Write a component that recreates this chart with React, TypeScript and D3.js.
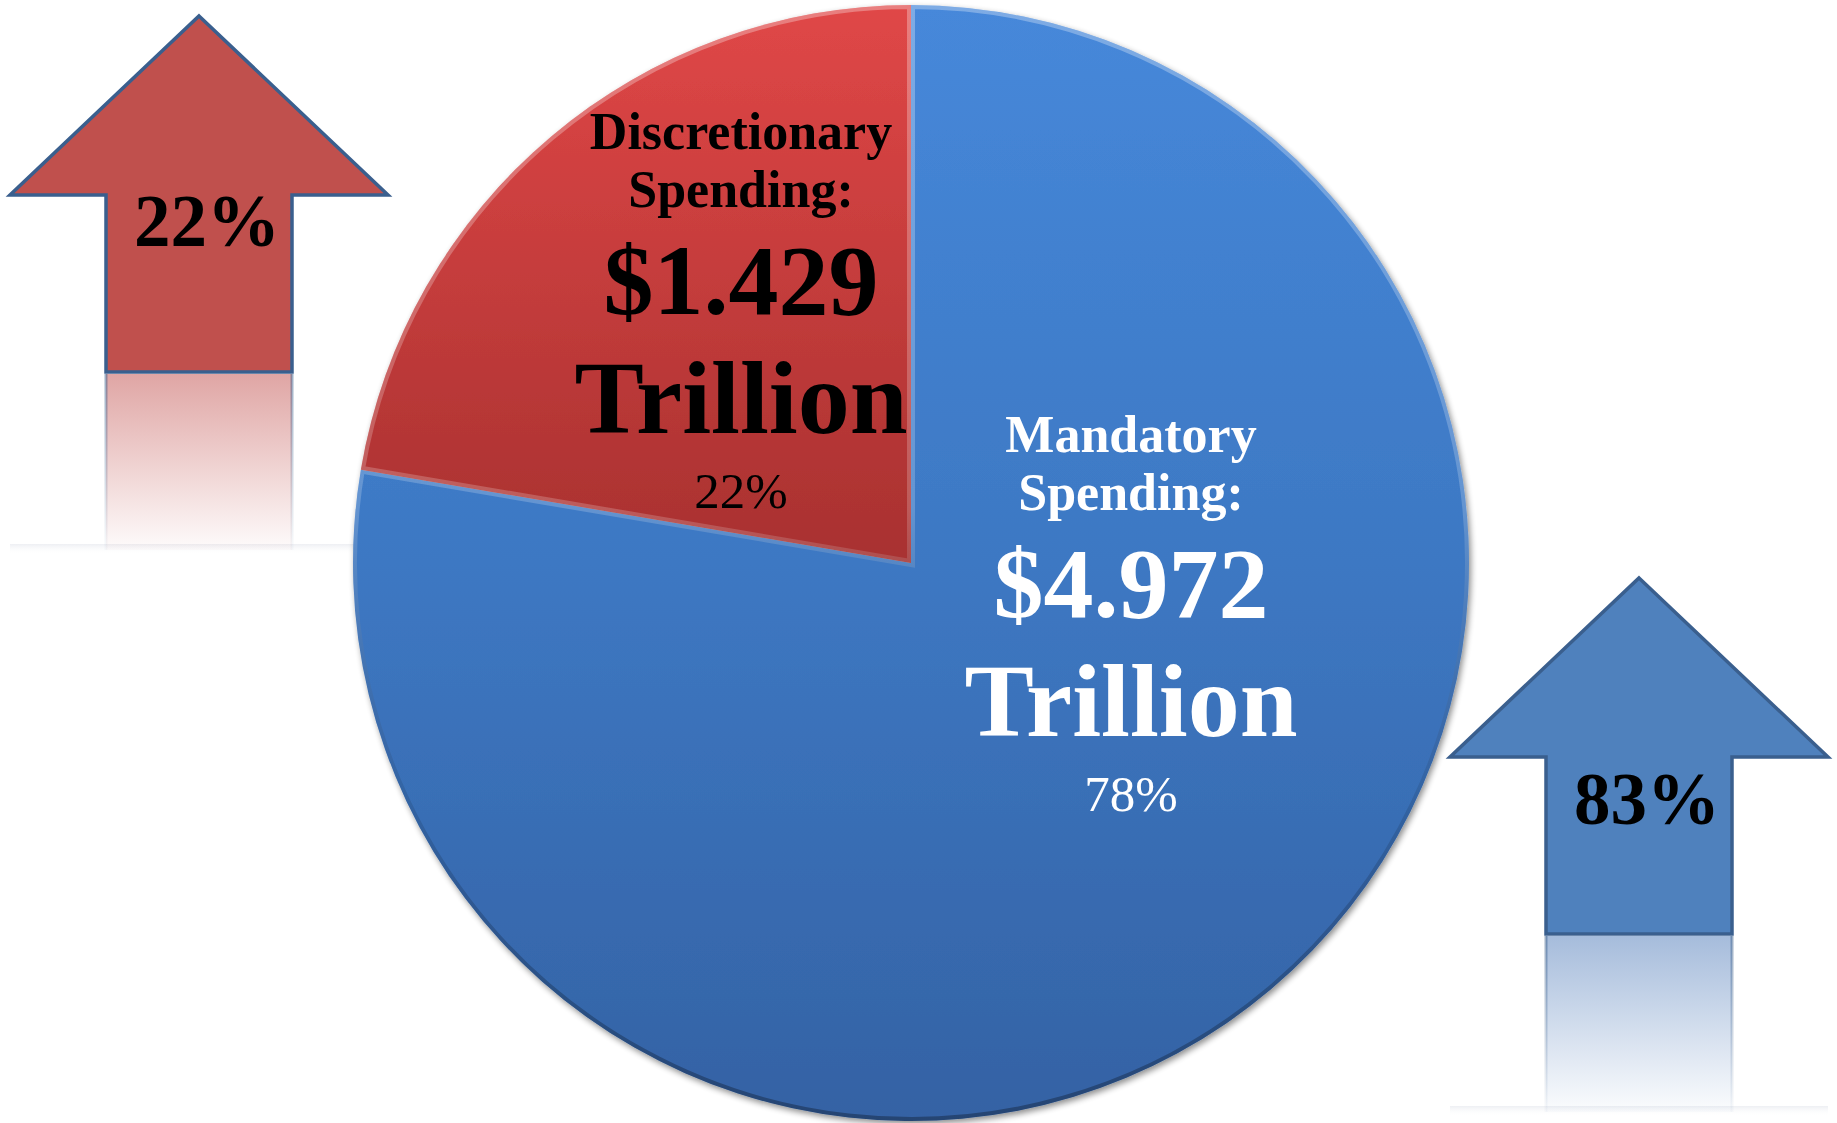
import { useMemo } from "react";
import * as d3 from "d3";

// Budget split
const CATEGORIES = ["Mandatory", "Discretionary"];
const VALUES = [4.972, 1.429];
const AMOUNT_LABELS = ["$4.972", "$1.429"];
const SHARE_LABELS = ["78%", "22%"];
// Growth arrows
const ARROW_LABELS = ["83%", "22%"];

const W = 1837;
const H = 1123;
const CX = 911;
const CY = 563;
const R = 558;

const SLICE_FILL = ["url(#blueGrad)", "url(#redGrad)"];
const TEXT_FILL = ["#ffffff", "#000000"];
const LABEL_ANCHOR = [
  { x: 1131, y: 452 },
  { x: 741, y: 149 },
];
const LINE_OFFSETS = [0, 58, 165, 284, 359];

// arrow layout
const ARROWS = [
  { tipX: 1639, tipY: 578, fill: "#4F81BD", refl: "#7f9fcc", textY: 824 },
  { tipX: 199, tipY: 16, fill: "#C0504D", refl: "#d27f7d", textY: 246 },
];
const HEAD_H = 179;
const HEAD_W = 378;
const SHAFT_W = 186;
const ARROW_H = 356;
const REFL_H = 176;

const FONT = "'Liberation Serif', 'Times New Roman', serif";

function arrowPath(tx: number, ty: number) {
  const p = d3.path();
  p.moveTo(tx, ty);
  p.lineTo(tx + HEAD_W / 2, ty + HEAD_H);
  p.lineTo(tx + SHAFT_W / 2, ty + HEAD_H);
  p.lineTo(tx + SHAFT_W / 2, ty + ARROW_H);
  p.lineTo(tx - SHAFT_W / 2, ty + ARROW_H);
  p.lineTo(tx - SHAFT_W / 2, ty + HEAD_H);
  p.lineTo(tx - HEAD_W / 2, ty + HEAD_H);
  p.closePath();
  return p.toString();
}

export default function App() {
  const arcs = useMemo(() => {
    const pie = d3.pie<number>().sort(null).value((d) => d);
    return pie(VALUES);
  }, []);
  const arc = d3.arc<d3.PieArcDatum<number>>().innerRadius(0).outerRadius(R);

  return (
    <div style={{ position: "absolute", left: 0, top: 0, width: W, height: H, background: "#fff" }}>
      <svg width={W} height={H} style={{ display: "block" }}>
        <defs>
          {/* pie-local coordinates (origin at pie centre) */}
          <linearGradient id="blueGrad" gradientUnits="userSpaceOnUse" x1="0" y1={-R} x2="0" y2={R}>
            <stop offset="0" stopColor="#4688DA" />
            <stop offset="0.5" stopColor="#3D78C3" />
            <stop offset="1" stopColor="#3462A4" />
          </linearGradient>
          <linearGradient id="redGrad" gradientUnits="userSpaceOnUse" x1="0" y1={-R} x2="0" y2={0}>
            <stop offset="0" stopColor="#E04747" />
            <stop offset="1" stopColor="#A83130" />
          </linearGradient>
          <linearGradient id="bevelGrad" gradientUnits="userSpaceOnUse" x1="0" y1={-R} x2="0" y2={R}>
            <stop offset="0" stopColor="#ffffff" stopOpacity="0.3" />
            <stop offset="0.45" stopColor="#ffffff" stopOpacity="0.2" />
            <stop offset="0.7" stopColor="#000000" stopOpacity="0.1" />
            <stop offset="1" stopColor="#000000" stopOpacity="0.3" />
          </linearGradient>
          <filter id="pieShadow" x="-10%" y="-10%" width="120%" height="120%">
            <feGaussianBlur in="SourceAlpha" stdDeviation="3" />
            <feOffset dx="2" dy="3" result="b" />
            <feComponentTransfer>
              <feFuncA type="linear" slope="0.45" />
            </feComponentTransfer>
            <feMerge>
              <feMergeNode />
              <feMergeNode in="SourceGraphic" />
            </feMerge>
          </filter>
          {ARROWS.map((a, i) => (
            <linearGradient key={i} id={`refl${i}`} x1="0" y1="0" x2="0" y2="1">
              <stop offset="0" stopColor={a.refl} stopOpacity="0.7" />
              <stop offset="1" stopColor={a.refl} stopOpacity="0.03" />
            </linearGradient>
          ))}
          <linearGradient id="reflEdge" x1="0" y1="0" x2="0" y2="1">
            <stop offset="0" stopColor="#385D8A" stopOpacity="0.5" />
            <stop offset="1" stopColor="#385D8A" stopOpacity="0.03" />
          </linearGradient>
          <linearGradient id="floorGrad" x1="0" y1="0" x2="0" y2="1">
            <stop offset="0" stopColor="#e9ebf0" stopOpacity="0.8" />
            <stop offset="1" stopColor="#ffffff" stopOpacity="0" />
          </linearGradient>
          {arcs.map((d, i) => (
            <clipPath key={i} id={`clip${i}`}>
              <path d={arc(d) ?? ""} />
            </clipPath>
          ))}
        </defs>

        {/* arrows with reflections */}
        {ARROWS.map((a, i) => {
          const bottom = a.tipY + ARROW_H;
          return (
            <g key={i}>
              <rect x={a.tipX - HEAD_W / 2} y={bottom + REFL_H - 4} width={HEAD_W} height={10} fill="url(#floorGrad)" />
              <rect x={a.tipX - SHAFT_W / 2} y={bottom + 2} width={SHAFT_W} height={REFL_H} fill={`url(#refl${i})`} />
              <rect x={a.tipX - SHAFT_W / 2 - 1.5} y={bottom + 2} width={3} height={REFL_H} fill="url(#reflEdge)" />
              <rect x={a.tipX + SHAFT_W / 2 - 1.5} y={bottom + 2} width={3} height={REFL_H} fill="url(#reflEdge)" />
              <path d={arrowPath(a.tipX, a.tipY)} fill={a.fill} stroke="#3A5F8E" strokeWidth={3.5} strokeLinejoin="miter" />
              <text x={a.tipX + 8} y={a.textY} textAnchor="middle" fontFamily={FONT} fontWeight="bold" fontSize={73} fill="#000">
                {ARROW_LABELS[i]}
              </text>
            </g>
          );
        })}

        {/* pie */}
        <g transform={`translate(${CX},${CY})`}>
          <g filter="url(#pieShadow)">
            {arcs.map((d, i) => (
              <path key={i} d={arc(d) ?? ""} fill={SLICE_FILL[i]} />
            ))}
          </g>
          {arcs.map((d, i) => (
            <path
              key={`b${i}`}
              d={arc(d) ?? ""}
              fill="none"
              stroke="url(#bevelGrad)"
              strokeWidth={8}
              clipPath={`url(#clip${i})`}
            />
          ))}
        </g>

        {/* labels */}
        {CATEGORIES.map((c, i) => {
          const { x, y } = LABEL_ANCHOR[i];
          const lines = [
            { t: c, size: 52, w: "bold" },
            { t: "Spending:", size: 52, w: "bold" },
            { t: AMOUNT_LABELS[i], size: 100, w: "bold" },
            { t: "Trillion", size: 104, w: "bold" },
            { t: SHARE_LABELS[i], size: 51, w: "normal" },
          ];
          return (
            <g key={c} fill={TEXT_FILL[i]} fontFamily={FONT} textAnchor="middle">
              {lines.map((l, j) => (
                <text key={j} x={x} y={y + LINE_OFFSETS[j]} fontSize={l.size} fontWeight={l.w}>
                  {l.t}
                </text>
              ))}
            </g>
          );
        })}
      </svg>
    </div>
  );
}
